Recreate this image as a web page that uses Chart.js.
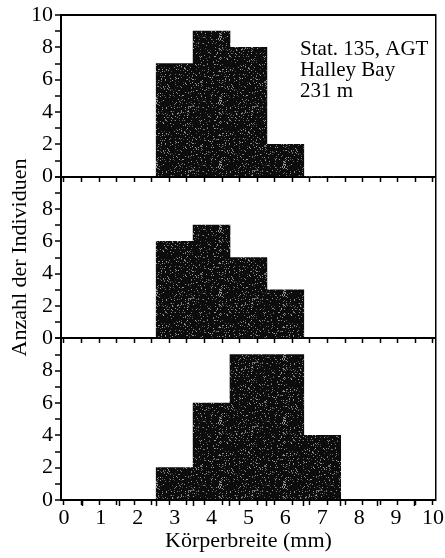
<!DOCTYPE html>
<html>
<head>
<meta charset="utf-8">
<script src="https://cdn.jsdelivr.net/npm/chart.js@4.4.1/dist/chart.umd.min.js"></script>
<style>
  html, body { margin: 0; padding: 0; background: #fff; }
  canvas { display: block; }
</style>
</head>
<body>
<canvas id="chart" width="445" height="558"></canvas>
<script>
// Körperbreite classes (bin centres, mm)
const bins = [3, 4, 5, 6, 7];
// Anzahl der Individuen per class, one series per panel (top to bottom)
const countsTop = [7, 9, 8, 2, 0];
const countsMiddle = [6, 7, 5, 3, 0];
const countsBottom = [2, 6, 9, 9, 4];
// Tick labels
const xTickLabels = ['0', '1', '2', '3', '4', '5', '6', '7', '8', '9', '10'];
const yTickLabels = ['0', '2', '4', '6', '8', '10'];
// Station note in the top panel
const stationLines = ['Stat. 135, AGT', 'Halley Bay', '231 m'];

const SERIF = '"Liberation Serif", "Times New Roman", serif';
const INK = '#000';
const CLEAR = 'rgba(0,0,0,0)';

// Dark stippled fill for the histogram bars
function stipplePattern() {
  const size = 64;
  const c = document.createElement('canvas');
  c.width = size; c.height = size;
  const g = c.getContext('2d');
  const img = g.createImageData(size, size);
  let s = 0x2545f491;
  const next = () => { s ^= s << 13; s ^= s >>> 17; s ^= s << 5; return (s >>> 0) / 4294967296; };
  for (let i = 0; i < size * size; i++) {
    let v = 12;
    if (next() < 0.12) v = 60 + Math.floor(next() * 110);
    img.data[i * 4] = v; img.data[i * 4 + 1] = v; img.data[i * 4 + 2] = v; img.data[i * 4 + 3] = 255;
  }
  g.putImageData(img, 0, 0);
  return g.createPattern(c, 'repeat');
}
const stipple = stipplePattern();

function panelDataset(counts, yAxisID) {
  return {
    type: 'bar',
    data: bins.map((b, i) => ({ x: b, y: counts[i] })),
    xAxisID: 'x',
    yAxisID,
    backgroundColor: stipple,
    borderWidth: 0,
    grouped: false,
    barPercentage: 1,
    categoryPercentage: 1
  };
}

// One left-hand count axis per panel, stacked from top to bottom
function panelAxis(id, order, withTitle) {
  return {
    type: 'linear',
    position: 'left',
    stack: 'panels',
    stackWeight: 1,
    weight: order,
    min: 0,
    max: 10,
    offset: false,
    border: { display: true, color: INK, width: 2 },
    grid: {
      drawOnChartArea: true,
      color: (ctx) => (ctx.tick && (ctx.tick.value === 0 || (id === 'y1' && ctx.tick.value === 10))) ? INK : CLEAR,
      lineWidth: 2,
      tickColor: INK,
      tickWidth: 1.5,
      tickLength: 6
    },
    ticks: {
      stepSize: 1,
      autoSkip: false,
      padding: 2,
      color: INK,
      font: { family: SERIF, size: 22, lineHeight: 1 },
      callback: (v) => {
        const label = String(v);
        if (!yTickLabels.includes(label)) return '';
        if (v === 10 && id !== 'y1') return '';
        return label;
      }
    },
    title: {
      display: withTitle,
      text: 'Anzahl der Individuen',
      color: INK,
      font: { family: SERIF, size: 22, lineHeight: 1.2 },
      padding: { top: 7, bottom: 0 }
    },
    afterFit: (scale) => { scale.width = 61; }
  };
}

// Half-unit tick marks along the base of a panel
function halfTicks(yId) {
  return {
    type: 'linear',
    axis: 'x',
    position: { [yId]: 0 },
    min: -0.08,
    max: 10.08,
    border: { display: false },
    grid: { drawOnChartArea: false, tickColor: INK, tickWidth: 1.5, tickLength: 5 },
    ticks: { display: false, stepSize: 0.5, includeBounds: false, autoSkip: false }
  };
}

const stationLabel = {
  id: 'stationLabel',
  afterDatasetsDraw(chart) {
    const { ctx, scales } = chart;
    const left = scales.x.getPixelForValue(6.4);
    const baselines = [7.5, 6.2, 4.9].map(v => scales.y1.getPixelForValue(v));
    ctx.save();
    ctx.font = '21px ' + SERIF;
    ctx.fillStyle = INK;
    ctx.textAlign = 'left';
    ctx.textBaseline = 'alphabetic';
    stationLines.forEach((t, i) => ctx.fillText(t, left, baselines[i]));
    ctx.restore();
  }
};

new Chart(document.getElementById('chart'), {
  type: 'bar',
  data: {
    datasets: [
      panelDataset(countsTop, 'y1'),
      panelDataset(countsMiddle, 'y2'),
      panelDataset(countsBottom, 'y3')
    ]
  },
  options: {
    responsive: false,
    devicePixelRatio: 1,
    animation: false,
    layout: { padding: { top: 15, left: 0, right: 8, bottom: 6 } },
    plugins: { legend: { display: false }, tooltip: { enabled: false } },
    scales: {
      x: {
        type: 'linear',
        position: 'bottom',
        min: -0.08,
        max: 10.08,
        offset: false,
        border: { display: true, color: INK, width: 2 },
        grid: { drawOnChartArea: false, tickColor: INK, tickWidth: 1.5, tickLength: 6 },
        ticks: {
          stepSize: 1,
          includeBounds: false,
          autoSkip: false,
          maxRotation: 0,
          padding: 1,
          color: INK,
          font: { family: SERIF, size: 22, lineHeight: 1 },
          callback: (v) => xTickLabels.includes(String(v)) ? String(v) : ''
        },
        title: {
          display: true,
          text: 'Körperbreite (mm)',
          color: INK,
          font: { family: SERIF, size: 22, lineHeight: 1 },
          padding: { top: 0, bottom: 0 }
        }
      },
      y1: panelAxis('y1', 3, false),
      y2: panelAxis('y2', 2, true),
      y3: panelAxis('y3', 1, false),
      yr: {
        type: 'linear',
        position: 'right',
        min: 0,
        max: 1,
        border: { display: true, color: INK, width: 1.5 },
        grid: { drawOnChartArea: false, drawTicks: false },
        ticks: { display: false }
      },
      xh1: halfTicks('y1'),
      xh2: halfTicks('y2'),
      xh3: halfTicks('y3')
    }
  },
  plugins: [stationLabel]
});
</script>
</body>
</html>
